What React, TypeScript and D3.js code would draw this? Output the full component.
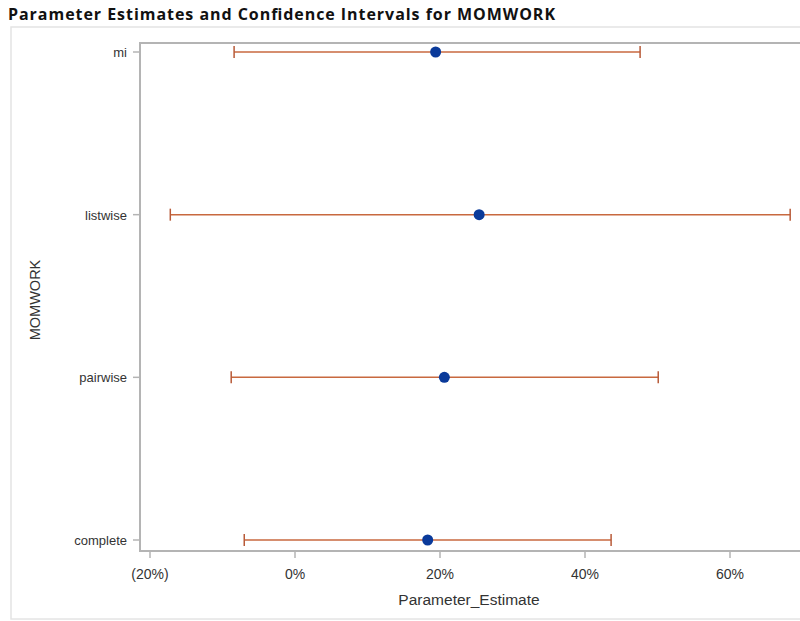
import React, { useEffect, useRef } from 'react';
import * as d3 from 'd3';

const categories = ['mi', 'listwise', 'pairwise', 'complete'];
const estimates = [19.4, 25.4, 20.6, 18.3];
const lowerCL = [-8.4, -17.2, -8.8, -7.0];
const upperCL = [47.6, 68.3, 50.1, 43.6];
const xTicks = [-20, 0, 20, 40, 60];

const App = () => {
  const svgRef = useRef<SVGSVGElement | null>(null);

  useEffect(() => {
    if (!svgRef.current) return;
    const svg = d3.select(svgRef.current);
    svg.selectAll('*').remove();

    const width = 800;
    const height = 621;
    const font = '"Liberation Sans", Arial, sans-serif';

    // plot frame
    const frame = { left: 140, top: 43, right: 820, bottom: 551 };

    const x = d3.scaleLinear().domain([0, 20]).range([295, 440]);
    const y = d3.scalePoint<string>()
      .domain(categories)
      .range([52, 540]);

    // Title
    svg.append('text')
      .attr('x', 8)
      .attr('y', 20)
      .attr('font-family', '"Open Sans", sans-serif')
      .attr('font-weight', 700)
      .attr('font-size', '16px')
      .attr('textLength', 547)
      .attr('fill', '#111')
      .text('Parameter Estimates and Confidence Intervals for MOMWORK');

    // outer graph border
    svg.append('rect')
      .attr('x', 11)
      .attr('y', 27)
      .attr('width', width)
      .attr('height', 592)
      .attr('fill', 'none')
      .attr('stroke', '#e4e4e4')
      .attr('stroke-width', 1.5);

    // frame
    svg.append('rect')
      .attr('x', frame.left)
      .attr('y', frame.top)
      .attr('width', frame.right - frame.left)
      .attr('height', frame.bottom - frame.top)
      .attr('fill', 'none')
      .attr('stroke', '#b4b4b4')
      .attr('stroke-width', 2);

    // x axis
    const fmt = (d: number) => (d < 0 ? `(${Math.abs(d)}%)` : `${d}%`);
    const xAxis = svg.append('g').attr('font-family', font);
    xAxis.selectAll('line')
      .data(xTicks)
      .enter()
      .append('line')
      .attr('x1', d => x(d))
      .attr('x2', d => x(d))
      .attr('y1', frame.bottom + 1)
      .attr('y2', frame.bottom + 7)
      .attr('stroke', '#b4b4b4')
      .attr('stroke-width', 1.5);
    xAxis.selectAll('text')
      .data(xTicks)
      .enter()
      .append('text')
      .attr('x', d => x(d))
      .attr('y', frame.bottom + 28)
      .attr('text-anchor', 'middle')
      .attr('font-size', '14px')
      .attr('fill', '#333')
      .text(d => fmt(d));

    svg.append('text')
      .attr('x', 469)
      .attr('y', 605)
      .attr('text-anchor', 'middle')
      .attr('font-family', font)
      .attr('font-size', '15.5px')
      .attr('fill', '#333')
      .text('Parameter_Estimate');

    // y axis
    const yAxis = svg.append('g').attr('font-family', font);
    yAxis.selectAll('line')
      .data(categories)
      .enter()
      .append('line')
      .attr('x1', frame.left - 7)
      .attr('x2', frame.left - 1)
      .attr('y1', d => y(d)!)
      .attr('y2', d => y(d)!)
      .attr('stroke', '#b4b4b4')
      .attr('stroke-width', 1.5);
    yAxis.selectAll('text')
      .data(categories)
      .enter()
      .append('text')
      .attr('x', frame.left - 13)
      .attr('y', d => y(d)! + 5)
      .attr('text-anchor', 'end')
      .attr('font-size', '13px')
      .attr('fill', '#333')
      .text(d => d);

    svg.append('text')
      .attr('transform', 'rotate(-90)')
      .attr('x', -300)
      .attr('y', 40)
      .attr('text-anchor', 'middle')
      .attr('font-family', font)
      .attr('font-size', '14.5px')
      .attr('fill', '#333')
      .text('MOMWORK');

    // error bars
    const bars = svg.append('g');
    categories.forEach((c, i) => {
      const cy = y(c)!;
      bars.append('line')
        .attr('x1', x(lowerCL[i]))
        .attr('x2', x(upperCL[i]))
        .attr('y1', cy)
        .attr('y2', cy)
        .attr('stroke', '#c8693f')
        .attr('stroke-width', 1.5);
      [lowerCL[i], upperCL[i]].forEach(v => {
        bars.append('line')
          .attr('x1', x(v))
          .attr('x2', x(v))
          .attr('y1', cy - 6)
          .attr('y2', cy + 6)
          .attr('stroke', '#b85a38')
          .attr('stroke-width', 1.5);
      });
    });

    // estimate markers
    svg.append('g')
      .selectAll('circle')
      .data(categories)
      .enter()
      .append('circle')
      .attr('cx', (d, i) => x(estimates[i]))
      .attr('cy', d => y(d)!)
      .attr('r', 5.5)
      .attr('fill', '#0a3a9a');

    svg.attr('width', width).attr('height', height);
  }, []);

  return (
    <svg
      ref={svgRef}
      width={800}
      height={621}
      style={{ position: 'absolute', left: 0, top: 0, background: '#fff' }}
    ></svg>
  );
};

export default App;
